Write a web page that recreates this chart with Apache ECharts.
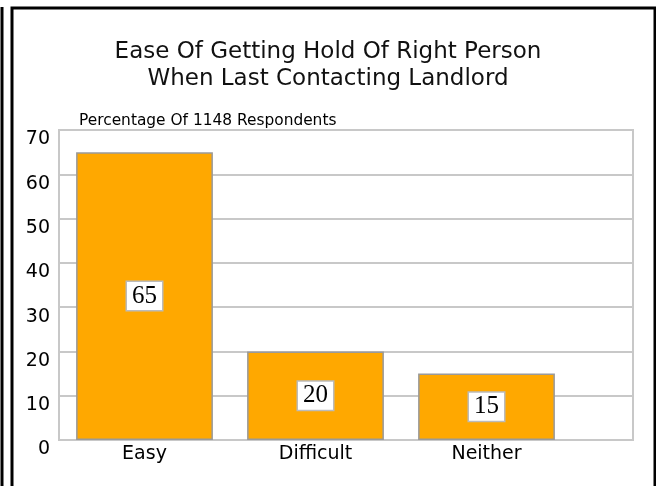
<!DOCTYPE html>
<html>
<head>
<meta charset="utf-8">
<script src="https://cdn.jsdelivr.net/npm/echarts@6/dist/echarts.min.js"></script>
<style>
  html, body { margin: 0; padding: 0; background: #fff; }
  #chart { width: 656px; height: 486px; }
</style>
</head>
<body>
<div id="chart"></div>
<script>
// Survey answers and their share of respondents (%)
const categories = ['Easy', 'Difficult', 'Neither'];
const percentages = [65, 20, 15];
const yTicks = { min: 0, max: 70, interval: 10 };

const titleText = 'Ease Of Getting Hold Of Right Person\nWhen Last Contacting Landlord';
const subtitleText = 'Percentage Of 1148 Respondents';

const FONT = '"DejaVu Sans", sans-serif';
const GRID_GRAY = '#c8c8c8';

const chart = echarts.init(document.getElementById('chart'), null, { renderer: 'canvas' });

chart.setOption({
  backgroundColor: '#fff',
  animation: false,
  title: [
    {
      text: titleText,
      left: 'center',
      top: 34,
      textStyle: { fontFamily: FONT, fontSize: 23, fontWeight: 'normal', color: '#111', lineHeight: 27 }
    },
    {
      text: subtitleText,
      left: 74,
      top: 108,
      textStyle: { fontFamily: FONT, fontSize: 15.4, fontWeight: 'normal', color: '#000' }
    }
  ],
  // Frame around the chart
  graphic: [
    { type: 'line', shape: { x1: 2, y1: 7, x2: 2, y2: 486 }, style: { stroke: '#000', lineWidth: 3 } },
    { type: 'polyline', shape: { points: [[12, 486], [12, 8], [655, 8], [655, 486]] },
      style: { stroke: '#000', lineWidth: 3, fill: null } }
  ],
  grid: [
    // full plot frame with horizontal gridlines
    { left: 59, right: 23, top: 130, bottom: 46, show: true, borderColor: GRID_GRAY, borderWidth: 2, backgroundColor: 'transparent' },
    // bar area: three category bands from the left edge
    { left: 59, width: 513, top: 130, bottom: 46 }
  ],
  xAxis: [
    { gridIndex: 0, type: 'value', show: false, min: 0, max: 1 },
    {
      gridIndex: 1,
      type: 'category',
      data: categories,
      axisLine: { show: false },
      axisTick: { show: false },
      axisLabel: { fontFamily: FONT, fontSize: 19, color: '#000', margin: 5 }
    }
  ],
  yAxis: [
    {
      gridIndex: 0,
      type: 'value',
      min: yTicks.min,
      max: yTicks.max,
      interval: yTicks.interval,
      axisLine: { show: false },
      axisTick: { show: false },
      axisLabel: { fontFamily: FONT, fontSize: 19, color: '#000', margin: 9, verticalAlign: 'top' },
      splitLine: { show: true, lineStyle: { color: GRID_GRAY, width: 2 } }
    },
    { gridIndex: 1, type: 'value', min: yTicks.min, max: yTicks.max, show: false, splitLine: { show: false } }
  ],
  series: [
    {
      type: 'bar',
      xAxisIndex: 1,
      yAxisIndex: 1,
      data: percentages,
      barWidth: '80%',
      itemStyle: { color: '#FFA800', borderColor: '#9a9a9a', borderWidth: 1.5 },
      label: {
        show: true,
        position: 'inside',
        fontFamily: '"Liberation Serif", "DejaVu Serif", serif',
        fontSize: 25,
        lineHeight: 25,
        color: '#000',
        backgroundColor: '#fff',
        borderColor: '#bbbbbb',
        borderWidth: 1.5,
        padding: [2, 5, 1, 5]
      }
    }
  ]
});
</script>
</body>
</html>
